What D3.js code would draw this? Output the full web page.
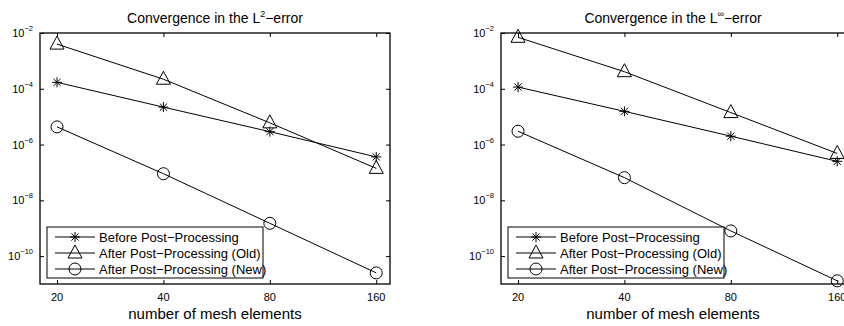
<!DOCTYPE html>
<html>
<head>
<meta charset="utf-8">
<script src="https://cdn.jsdelivr.net/npm/d3@7"></script>
<style>
  body { margin: 0; background: #fff; }
  svg { display: block; font-family: "Liberation Sans", Arial, sans-serif; }
  .curve { fill: none; stroke: #000; stroke-width: 1; }
  .marker { fill: none; stroke: #000; stroke-width: 1; }
</style>
</head>
<body>
<div id="chart"></div>
<script>
// mesh sizes (x) and errors (y)
const meshElements = [20, 40, 80, 160];
const xTicks = [20, 40, 80, 160];
const yTickExps = [-2, -4, -6, -8, -10];
const xLimits = [17.9, 175];
const yLimits = [1e-11, 1e-2];

const seriesNames = ["Before Post\u2212Processing", "After Post\u2212Processing (Old)", "After Post\u2212Processing (New)"];
const seriesMarkers = ["star", "triangle", "circle"];

// L2 error
const l2Before = [1.7e-4, 2.2e-5, 2.9e-6, 3.6e-7];
const l2Old = [4.0e-3, 2.2e-4, 6.0e-6, 1.4e-7];
const l2New = [4.3e-6, 9.0e-8, 1.5e-9, 2.5e-11];

// L-infinity error
const linfBefore = [1.15e-4, 1.55e-5, 2.0e-6, 2.5e-7];
const linfOld = [7.0e-3, 4.1e-4, 1.4e-5, 4.8e-7];
const linfNew = [3.0e-6, 6.5e-8, 8.0e-10, 1.3e-11];

const panels = [
  { sup: "2", series: [l2Before, l2Old, l2New], left: 40, right: 390, titleX: 215 },
  { sup: "\u221e", series: [linfBefore, linfOld, linfNew], left: 501, right: 851, titleX: 673 }
];

const W = 844, H = 326;
const plotTop = 33, plotBottom = 284;

const svg = d3.select("#chart").append("svg")
  .attr("width", W)
  .attr("height", H);

function drawMarker(g, type, cx, cy) {
  if (type === "circle") {
    g.append("circle").attr("class", "marker")
      .attr("cx", cx).attr("cy", cy).attr("r", 6);
  } else if (type === "triangle") {
    g.append("path").attr("class", "marker")
      .attr("d", `M${cx},${cy - 8}L${cx + 7},${cy + 5}L${cx - 7},${cy + 5}Z`);
  } else {
    const s = 5, d = 3.6;
    g.append("path").attr("class", "marker")
      .attr("d", `M${cx - s},${cy}H${cx + s}M${cx},${cy - s}V${cy + s}` +
        `M${cx - d},${cy - d}L${cx + d},${cy + d}M${cx - d},${cy + d}L${cx + d},${cy - d}`);
  }
}

panels.forEach(p => {
  const x = d3.scaleLog().base(2).domain(xLimits).range([p.left, p.right]);
  const y = d3.scaleLog().domain(yLimits).range([plotBottom, plotTop]);
  const g = svg.append("g");

  // title
  const title = g.append("text")
    .attr("x", p.titleX).attr("y", 23)
    .attr("text-anchor", "middle")
    .attr("font-size", 14);
  title.append("tspan").text("Convergence in the L");
  title.append("tspan").attr("font-size", 9).attr("dy", -6).text(p.sup);
  title.append("tspan").attr("dy", 6).text("\u2212error");

  // axes (ticks inward, box)
  const yTickVals = yTickExps.map(e => Math.pow(10, e));
  g.append("g").attr("transform", `translate(${p.left},0)`)
    .call(d3.axisRight(y).tickValues(yTickVals).tickSize(4).tickFormat(""))
    .call(a => a.select(".domain").remove());
  g.append("g").attr("transform", `translate(${p.right},0)`)
    .call(d3.axisLeft(y).tickValues(yTickVals).tickSize(4).tickFormat(""))
    .call(a => a.select(".domain").remove());
  g.append("g").attr("transform", `translate(0,${plotBottom})`)
    .call(d3.axisTop(x).tickValues(xTicks).tickSize(4).tickFormat(""))
    .call(a => a.select(".domain").remove());
  g.append("g").attr("transform", `translate(0,${plotTop})`)
    .call(d3.axisBottom(x).tickValues(xTicks).tickSize(4).tickFormat(""))
    .call(a => a.select(".domain").remove());
  g.append("rect")
    .attr("x", p.left).attr("y", plotTop)
    .attr("width", p.right - p.left).attr("height", plotBottom - plotTop)
    .attr("fill", "none").attr("stroke", "#000").attr("stroke-width", 1.3);

  // y tick labels
  yTickExps.forEach(e => {
    const t = g.append("text")
      .attr("x", p.left - 7).attr("y", y(Math.pow(10, e)) + 4)
      .attr("text-anchor", "end").attr("font-size", 11);
    t.append("tspan").text("10");
    t.append("tspan").attr("font-size", 7.5).attr("dy", -6).text("\u2212" + (-e));
  });

  // x tick labels
  xTicks.forEach(v => {
    g.append("text")
      .attr("x", x(v)).attr("y", 301)
      .attr("text-anchor", "middle").attr("font-size", 11)
      .text(v);
  });

  g.append("text")
    .attr("x", p.titleX).attr("y", 319)
    .attr("text-anchor", "middle").attr("font-size", 15)
    .text("number of mesh elements");

  // lines and markers
  const line = d3.line().x((d, i) => x(meshElements[i])).y(d => y(d));
  p.series.forEach((s, k) => {
    g.append("path").datum(s).attr("class", "curve").attr("d", line);
    s.forEach((v, i) => drawMarker(g, seriesMarkers[k], x(meshElements[i]), y(v)));
  });

  // legend
  const lx = p.left + 7, ly = 227;
  const leg = g.append("g");
  leg.append("rect")
    .attr("x", lx).attr("y", ly).attr("width", 216).attr("height", 51)
    .attr("fill", "#fff").attr("stroke", "#000").attr("stroke-width", 1);
  seriesNames.forEach((name, k) => {
    const ry = ly + 10 + k * 16;
    leg.append("line").attr("class", "curve")
      .attr("x1", lx + 8).attr("x2", lx + 48).attr("y1", ry).attr("y2", ry);
    drawMarker(leg, seriesMarkers[k], lx + 28, ry);
    leg.append("text")
      .attr("x", lx + 52).attr("y", ry + 4.5)
      .attr("font-size", 13)
      .text(name);
  });
});
</script>
</body>
</html>
